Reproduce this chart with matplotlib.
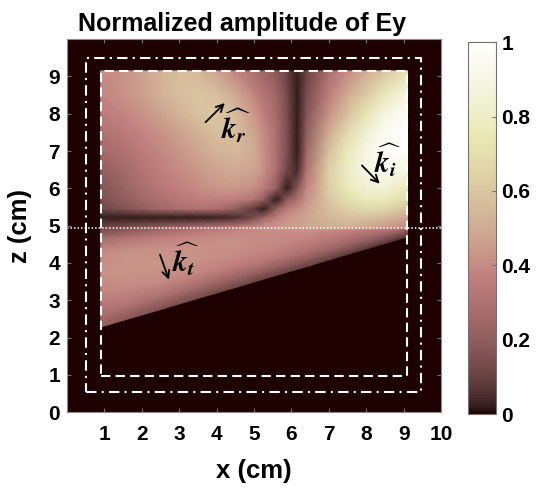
import numpy as np
import matplotlib
matplotlib.use("Agg")
import matplotlib.pyplot as plt

plt.rcParams["font.family"] = ["Liberation Sans", "DejaVu Sans"]
plt.rcParams["mathtext.fontset"] = "stix"

# ---- field samples (normalized |Ey|) ----
# upper half (incident + reflected), nodes along x and z
x_up = [0.9, 1.5, 2.0, 2.5, 3.0, 3.5, 4.0, 4.5, 5.0, 5.25, 5.6, 5.88, 6.15, 6.4, 7.0, 7.5, 8.0, 8.5, 9.1]
z_up = [4.95, 5.22, 5.45, 5.7, 6.0, 6.5, 7.0, 7.5, 8.0, 8.5, 9.15]
amp_up = [
    [0.12, 0.15, 0.18, 0.22, 0.26, 0.30, 0.33, 0.36, 0.40, 0.42, 0.44, 0.46, 0.46, 0.48, 0.50, 0.50, 0.48, 0.44, 0.38],
    [0.02, 0.02, 0.02, 0.02, 0.02, 0.02, 0.03, 0.05, 0.14, 0.24, 0.36, 0.42, 0.45, 0.48, 0.54, 0.58, 0.58, 0.55, 0.48],
    [0.12, 0.16, 0.20, 0.25, 0.28, 0.30, 0.28, 0.20, 0.08, 0.02, 0.22, 0.34, 0.40, 0.46, 0.57, 0.64, 0.68, 0.66, 0.58],
    [0.15, 0.20, 0.25, 0.29, 0.33, 0.36, 0.37, 0.36, 0.30, 0.20, 0.02, 0.20, 0.30, 0.42, 0.60, 0.70, 0.76, 0.76, 0.68],
    [0.17, 0.23, 0.28, 0.33, 0.37, 0.40, 0.43, 0.44, 0.41, 0.35, 0.20, 0.02, 0.18, 0.38, 0.63, 0.76, 0.84, 0.85, 0.76],
    [0.20, 0.26, 0.31, 0.36, 0.40, 0.44, 0.48, 0.50, 0.48, 0.42, 0.28, 0.12, 0.04, 0.30, 0.64, 0.80, 0.90, 0.94, 0.90],
    [0.26, 0.30, 0.35, 0.39, 0.43, 0.48, 0.53, 0.55, 0.50, 0.42, 0.28, 0.15, 0.02, 0.24, 0.58, 0.76, 0.90, 0.98, 0.98],
    [0.30, 0.34, 0.38, 0.42, 0.47, 0.52, 0.57, 0.57, 0.48, 0.40, 0.28, 0.15, 0.02, 0.20, 0.50, 0.68, 0.84, 0.96, 1.00],
    [0.35, 0.38, 0.42, 0.47, 0.53, 0.58, 0.60, 0.56, 0.44, 0.36, 0.26, 0.14, 0.02, 0.17, 0.42, 0.58, 0.74, 0.88, 0.98],
    [0.38, 0.42, 0.46, 0.52, 0.57, 0.60, 0.58, 0.50, 0.38, 0.32, 0.24, 0.13, 0.02, 0.14, 0.36, 0.50, 0.62, 0.76, 0.90],
    [0.40, 0.42, 0.47, 0.53, 0.57, 0.55, 0.47, 0.38, 0.28, 0.24, 0.18, 0.10, 0.02, 0.10, 0.28, 0.40, 0.50, 0.60, 0.72],
]

# lower half (transmitted beam), between its lower edge and the interface
x_lo = [0.9, 1.5, 2.5, 3.5, 4.5, 5.5, 6.5, 7.5, 8.5, 9.1]
edge_z = [2.28, 2.46, 2.75, 3.05, 3.34, 3.64, 3.93, 4.23, 4.52, 4.70]
interface_z = 4.93
band_frac = [0.0, 0.15, 0.35, 0.55, 0.75, 0.9, 1.0]
amp_lo = [
    [0.20, 0.18, 0.15, 0.13, 0.12, 0.10, 0.10, 0.08, 0.06, 0.05],
    [0.30, 0.30, 0.28, 0.25, 0.22, 0.20, 0.17, 0.14, 0.10, 0.08],
    [0.38, 0.40, 0.40, 0.38, 0.35, 0.32, 0.27, 0.22, 0.16, 0.12],
    [0.42, 0.43, 0.43, 0.42, 0.40, 0.38, 0.33, 0.28, 0.22, 0.16],
    [0.40, 0.42, 0.42, 0.42, 0.42, 0.40, 0.38, 0.33, 0.27, 0.20],
    [0.26, 0.30, 0.35, 0.38, 0.40, 0.41, 0.40, 0.37, 0.31, 0.24],
    [0.12, 0.15, 0.22, 0.30, 0.36, 0.42, 0.45, 0.44, 0.38, 0.32],
]

# simulation boxes
inner_box = (0.9, 0.97, 9.1, 9.15)
outer_box = (0.52, 0.53, 9.47, 9.5)

cmap = plt.get_cmap("pink")

fig = plt.figure(figsize=(5.47, 4.90), dpi=100)
ax = fig.add_axes([0.1225, 0.159, 0.684, 0.761])
cax = fig.add_axes([0.8556, 0.155, 0.0512, 0.759])
ax.set_facecolor(cmap(0.0))

Xu, Zu = np.meshgrid(x_up, z_up)
mesh = ax.pcolormesh(Xu, Zu, np.array(amp_up), shading="gouraud", cmap=cmap, vmin=0, vmax=1)

edge = np.array(edge_z)[None, :]
frac = np.array(band_frac)[:, None]
Xl = np.broadcast_to(np.array(x_lo)[None, :], (len(band_frac), len(x_lo)))
Zl = edge + frac * (interface_z - edge)
ax.pcolormesh(Xl, Zl, np.array(amp_lo), shading="gouraud", cmap=cmap, vmin=0, vmax=1)

# boxes and interface
x0, y0, x1, y1 = inner_box
ax.plot([x0, x1, x1, x0, x0], [y0, y0, y1, y1, y0], color="white", lw=1.5,
        dashes=(4.5, 2.5), solid_capstyle="butt")
x0, y0, x1, y1 = outer_box
ax.plot([x0, x1, x1, x0, x0], [y0, y0, y1, y1, y0], color="white", lw=1.5,
        dashes=(5, 2.5, 1, 2.5))
ax.axhline(interface_z, color="white", lw=1.1, dashes=(1, 1.3))

# wave vectors
arrows = [((3.65, 7.72), (4.27, 8.34)), ((7.83, 6.67), (8.41, 6.07)), ((2.46, 4.29), (2.75, 3.48))]
for (xs, zs), (xe, ze) in arrows:
    ax.annotate("", xy=(xe, ze), xytext=(xs, zs),
                arrowprops=dict(arrowstyle="->", color="black", lw=1.3, mutation_scale=13))
k_labels = [(4.12, 7.68, "r"), (8.2, 6.74, "i"), (2.8, 4.08, "t")]
for kx, kz, sub in k_labels:
    ax.text(kx, kz, r"$\widehat{\mathbfit{k}_{\mathbfit{%s}}}$" % sub, fontsize=21,
            ha="left", va="center")

ax.set_xlim(0, 10)
ax.set_ylim(0, 10)
ax.set_xticks(range(1, 11))
ax.set_yticks(range(0, 10))
ax.tick_params(direction="in", top=True, right=True, length=3, color="0.45", labelsize=15)
ax.tick_params(axis="x", pad=9)
ax.tick_params(axis="y", pad=5)
for lab in ax.get_xticklabels() + ax.get_yticklabels():
    lab.set_fontweight("bold")
for sp in ax.spines.values():
    sp.set_color("0.55")
ax.set_xlabel("x (cm)", fontsize=18.5, fontweight="bold", labelpad=11)
ax.set_ylabel("z (cm)", fontsize=18.5, fontweight="bold", labelpad=12)
ax.set_title("Normalized amplitude of Ey", fontsize=18, fontweight="bold", x=0.468, pad=6)

cb = fig.colorbar(mesh, cax=cax, ticks=[0, 0.2, 0.4, 0.6, 0.8, 1.0])
cb.ax.set_yticklabels(["0", "0.2", "0.4", "0.6", "0.8", "1"])
cb.ax.tick_params(direction="in", length=3, color="0.45", labelsize=15, pad=4)
for lab in cb.ax.get_yticklabels():
    lab.set_fontweight("bold")
cb.outline.set_edgecolor("0.45")

fig.savefig("out.png", dpi=100)
